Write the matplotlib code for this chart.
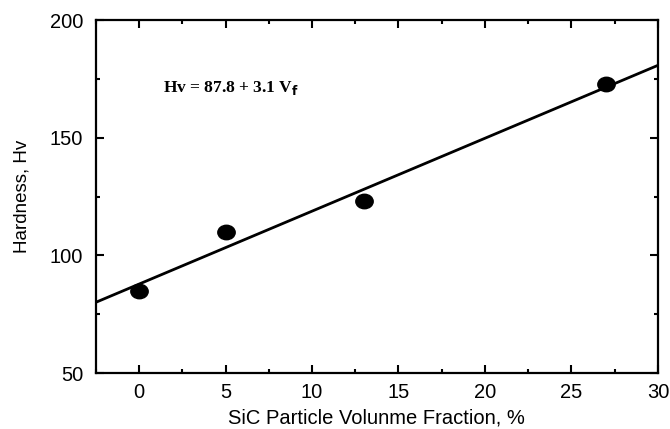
import numpy as np
import matplotlib.pyplot as plt
from matplotlib.path import Path
from matplotlib.ticker import MultipleLocator

plt.rcParams['font.family'] = ['Liberation Sans', 'DejaVu Sans']

# measured data
vf = [0, 5, 13, 27]
hv = [85, 110, 123, 173]

# fit line Hv = 87.8 + 3.1 Vf
intercept = 87.8
slope = 3.1
x_fit = np.array([-2.5, 30])
y_fit = intercept + slope * x_fit

fig = plt.figure(figsize=(6.7, 4.29), dpi=100)
ax = fig.add_axes([0.143, 0.1305, 0.839, 0.8225])

# slightly flattened dot marker
circ = Path.unit_circle()
oval = Path(circ.vertices * np.array([1.2, 1.0]), circ.codes)

ax.plot(x_fit, y_fit, color='black', lw=2)
ax.plot(vf, hv, linestyle='none', marker=oval, markersize=12.5,
        color='black')

ax.set_xlim(-2.5, 30)
ax.set_ylim(50, 200)
ax.xaxis.set_major_locator(MultipleLocator(5))
ax.xaxis.set_minor_locator(MultipleLocator(2.5))
ax.yaxis.set_major_locator(MultipleLocator(50))
ax.yaxis.set_minor_locator(MultipleLocator(25))
ax.tick_params(which='both', direction='in', top=True, right=True,
               width=1.5, labelsize=14.5)
ax.tick_params(axis='x', pad=7)
ax.tick_params(axis='y', pad=9)
ax.tick_params(which='major', length=6)
ax.tick_params(which='minor', length=3)
for s in ax.spines.values():
    s.set_linewidth(1.6)

ax.set_xlabel('SiC Particle Volunme Fraction, %', fontsize=14.5, labelpad=5)
ax.set_ylabel('Hardness, Hv', fontsize=13.5, labelpad=14)

ax.text(1.4, 171, r'Hv = 87.8 + 3.1 V$_\mathbf{f}$', fontsize=12.5,
        fontweight='bold', family='Liberation Serif', va='center')

fig.savefig('out.png', dpi=100)
